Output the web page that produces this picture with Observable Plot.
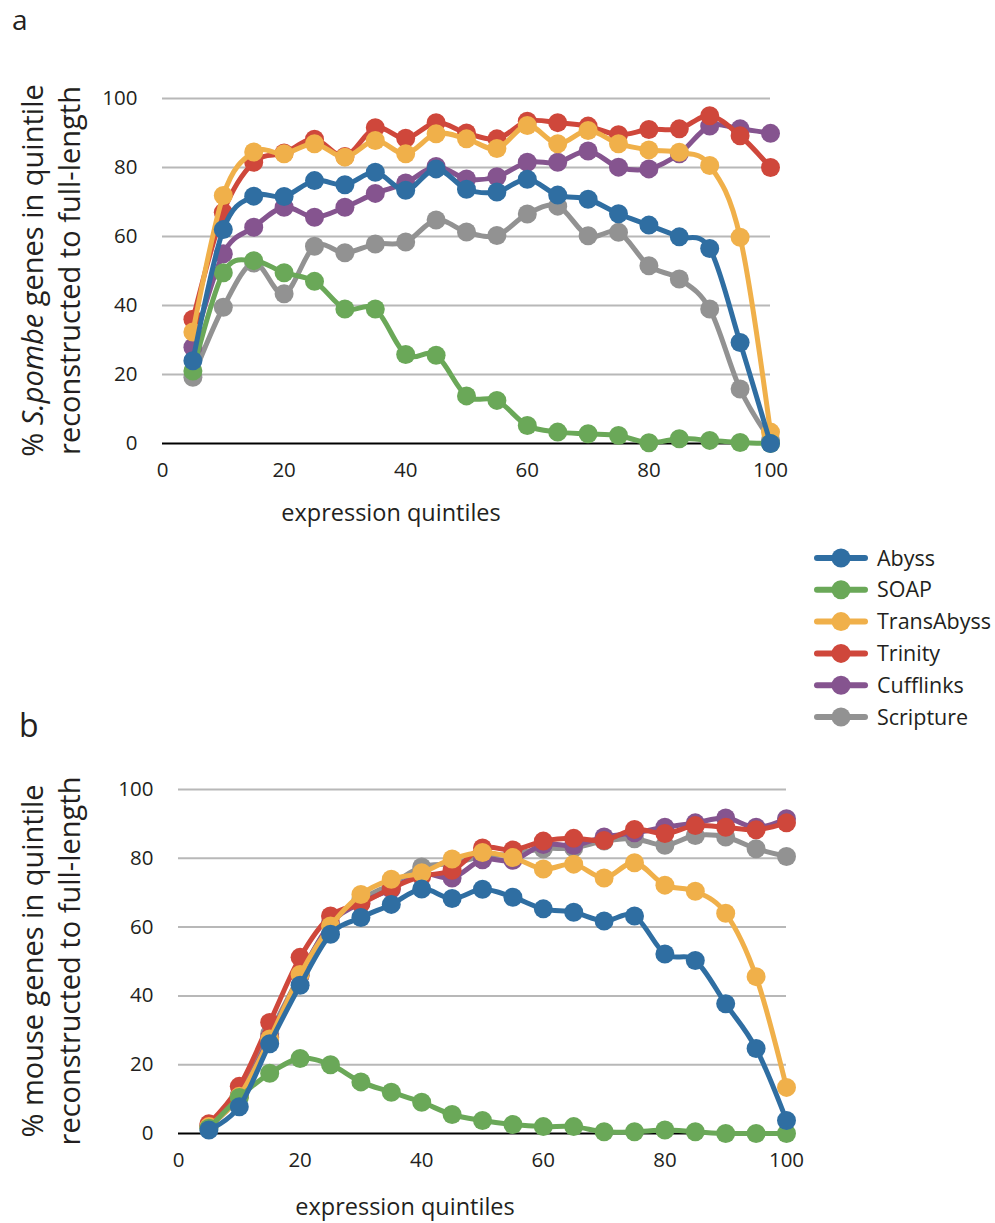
<!DOCTYPE html>
<html><head><meta charset="utf-8">
<script src="https://cdn.jsdelivr.net/npm/d3@7"></script>
<script src="https://cdn.jsdelivr.net/npm/@observablehq/plot@0.6"></script>
<style>
body{margin:0;background:#fff;}
#root{position:relative;width:995px;height:1223px;font-family:"Open Sans",sans-serif;color:#231f20;background:#fff;}
.abs{position:absolute;}
</style></head><body><div id="root"></div>
<script>
const quintiles = [5,10,15,20,25,30,35,40,45,50,55,60,65,70,75,80,85,90,95,100];
const seriesNames = ["Abyss","SOAP","TransAbyss","Trinity","Cufflinks","Scripture"];
const seriesColors = ["#2f6ea2","#6aa858","#f0b04a","#cf473b","#85548f","#929292"];
const yTicks = [0,20,40,60,80,100];
const xTicks = [0,20,40,60,80,100];

// panel a: S. pombe
const abyssA      = [24,62,71.7,71.6,76.2,75,78.6,73.4,79.6,73.7,72.9,76.6,72,70.8,66.6,63.3,59.9,56.5,29.3,0];
const soapA       = [21,49.5,53,49.5,47,39,39,25.8,25.6,13.8,12.5,5.2,3.3,2.8,2.3,0.2,1.4,0.9,0.3,0];
const transAbyssA = [32.3,71.9,84.5,84,86.9,83,87.8,84,89.8,88.3,85.5,92.2,86.9,90.7,86.9,85.1,84.4,80.6,59.8,3.3];
const trinityA    = [36,67,81.5,84.2,88.2,83.2,91.5,88.5,93,90,88.3,93.4,93,92,89.5,91,91.2,95,89.2,80];
const cufflinksA  = [27.9,55,62.7,68.5,65.6,68.5,72.5,75.5,80.3,76.7,77.3,81.5,81.5,84.8,80.1,79.6,84,92,91.2,89.9];
const scriptureA  = [19.2,39.5,52.3,43.4,57.2,55.3,57.8,58.4,64.8,61.3,60.3,66.5,68.8,60.2,61.2,51.5,47.7,39,15.8,1];

// panel b: mouse
const abyssB      = [1,7.8,26.1,43.1,57.9,62.8,66.6,71.1,68.3,71,68.7,65.3,64.3,61.8,63.2,52.2,50.3,37.7,24.7,3.8];
const soapB       = [1.5,10.5,17.5,21.8,20,15,12,9.1,5.5,3.8,2.6,2,2,0.5,0.5,1,0.5,0,0,0];
const transAbyssB = [2,10.8,27.5,46.2,60.3,69.5,73.9,75.8,79.8,81.7,80.2,76.9,78.3,74.3,78.7,72.2,70.4,64,45.6,13.4];
const trinityB    = [2.8,13.7,32.3,51.2,63.2,66.8,71.3,74.8,76.5,83,82.4,85,85.8,85.2,88.4,87.2,89.5,89,88.3,90.3];
const cufflinksB  = [2.2,11,28,46,61,67,71,75.5,74.3,79.6,79.4,84,83.7,86.2,87.4,89,90.3,91.7,89,91.5];
const scriptureB  = [2,11,29,46,61,68,72.5,77.5,78.5,80.5,81.3,82.8,83,85,85.7,83.8,86.6,86.2,82.8,80.5];

const xTitle = "expression quintiles";

function tidy(arrays) {
  return arrays.map((vals, i) => vals.map((v, j) => ({series: seriesNames[i], x: quintiles[j], y: v})));
}

function panel(arrays, m) {
  const groups = tidy(arrays);
  const seriesMarks = [];
  for (let i = groups.length - 1; i >= 0; i--) {
    seriesMarks.push(Plot.line(groups[i], {x: "x", y: "y", stroke: seriesColors[i], strokeWidth: 5, curve: "cardinal"}));
    seriesMarks.push(Plot.dot(groups[i], {x: "x", y: "y", r: 9.5, fill: seriesColors[i], stroke: "none"}));
  }
  return Plot.plot({
    width: 800, height: m.height,
    marginLeft: m.left, marginRight: m.right, marginTop: m.top, marginBottom: m.bottom,
    x: {domain: [0, 100]},
    y: {domain: [0, 100]},
    style: {fontFamily: "'Open Sans', sans-serif", fontSize: "20.5px", color: "#231f20", background: "transparent", overflow: "visible"},
    marks: [
      Plot.gridY(yTicks.filter(d => d > 0), {stroke: "#b8b8b8", strokeOpacity: 1, strokeWidth: 2}),
      Plot.axisY(yTicks, {tickSize: 0, tickPadding: 25, label: null, fontSize: 20.5}),
      Plot.axisX(xTicks, {tickSize: 0, tickPadding: 19, label: null, fontSize: 20.5}),
      Plot.ruleY([0], {stroke: "#000", strokeWidth: 2}),
      ...seriesMarks
    ]
  });
}

function addYTitle(svg, cy, line1parts, line2) {
  const s = d3.select(svg);
  const t1 = s.append("text").attr("transform", `translate(43,${cy}) rotate(-90)`)
    .attr("text-anchor", "middle").attr("fill", "#231f20")
    .style("font-size", "29px").style("font-family", "'Open Sans', sans-serif");
  line1parts.forEach(p => t1.append("tspan").attr("font-style", p.italic ? "italic" : "normal").text(p.t));
  s.append("text").attr("transform", `translate(80,${cy}) rotate(-90)`)
    .attr("text-anchor", "middle").attr("fill", "#231f20")
    .style("font-size", "29px").style("font-family", "'Open Sans', sans-serif")
    .text(line2);
}

function addXTitle(svg, x, y) {
  d3.select(svg).append("text").attr("x", x).attr("y", y).attr("text-anchor", "middle")
    .attr("fill", "#231f20").style("font-size", "23.5px").style("font-family", "'Open Sans', sans-serif")
    .text(xTitle);
}

const root = document.getElementById("root");

const pa = panel([abyssA, soapA, transAbyssA, trinityA, cufflinksA, scriptureA], {height: 540, left: 162, right: 30, top: 98, bottom: 97});
addYTitle(pa, 270.5, [{t: "% "}, {t: "S.pombe", italic: true}, {t: " genes in quintile"}], "reconstructed to full-length");
addXTitle(pa, 391, 521);
pa.classList.add("abs"); pa.style.left = "0px"; pa.style.top = "0px";
root.appendChild(pa);

const pb = panel([abyssB, soapB, transAbyssB, trinityB, cufflinksB, scriptureB], {height: 533, left: 178, right: 14, top: 99, bottom: 90});
addYTitle(pb, 271, [{t: "% mouse genes in quintile"}], "reconstructed to full-length");
addXTitle(pb, 405, 525);
pb.classList.add("abs"); pb.style.left = "0px"; pb.style.top = "690px";
root.appendChild(pb);

// panel letters
const letters = d3.select(root).append("svg").attr("class", "abs").style("left", "0px").style("top", "0px")
  .attr("width", 60).attr("height", 760).style("pointer-events", "none");
letters.append("text").attr("x", 12).attr("y", 30).style("font-size", "28px").attr("fill", "#231f20")
  .style("font-family", "'Open Sans', sans-serif").text("a");
letters.append("text").attr("x", 19).attr("y", 737).style("font-size", "32px").attr("fill", "#231f20")
  .style("font-family", "'Open Sans', sans-serif").text("b");

// legend
const lg = d3.select(root).append("svg").attr("class", "abs").style("left", "812px").style("top", "540px")
  .attr("width", 183).attr("height", 195);
seriesNames.forEach((name, i) => {
  const cy = 18 + i * 31.8;
  const g = lg.append("g");
  g.append("line").attr("x1", 5).attr("x2", 53).attr("y1", cy).attr("y2", cy)
    .attr("stroke", seriesColors[i]).attr("stroke-width", 6).attr("stroke-linecap", "round");
  g.append("circle").attr("cx", 29).attr("cy", cy).attr("r", 9.5).attr("fill", seriesColors[i]);
  g.append("text").attr("x", 65).attr("y", cy).attr("dy", "0.35em").attr("fill", "#231f20")
    .style("font-size", "21.5px").style("font-family", "'Open Sans', sans-serif").text(name);
});
</script>
</body></html>
